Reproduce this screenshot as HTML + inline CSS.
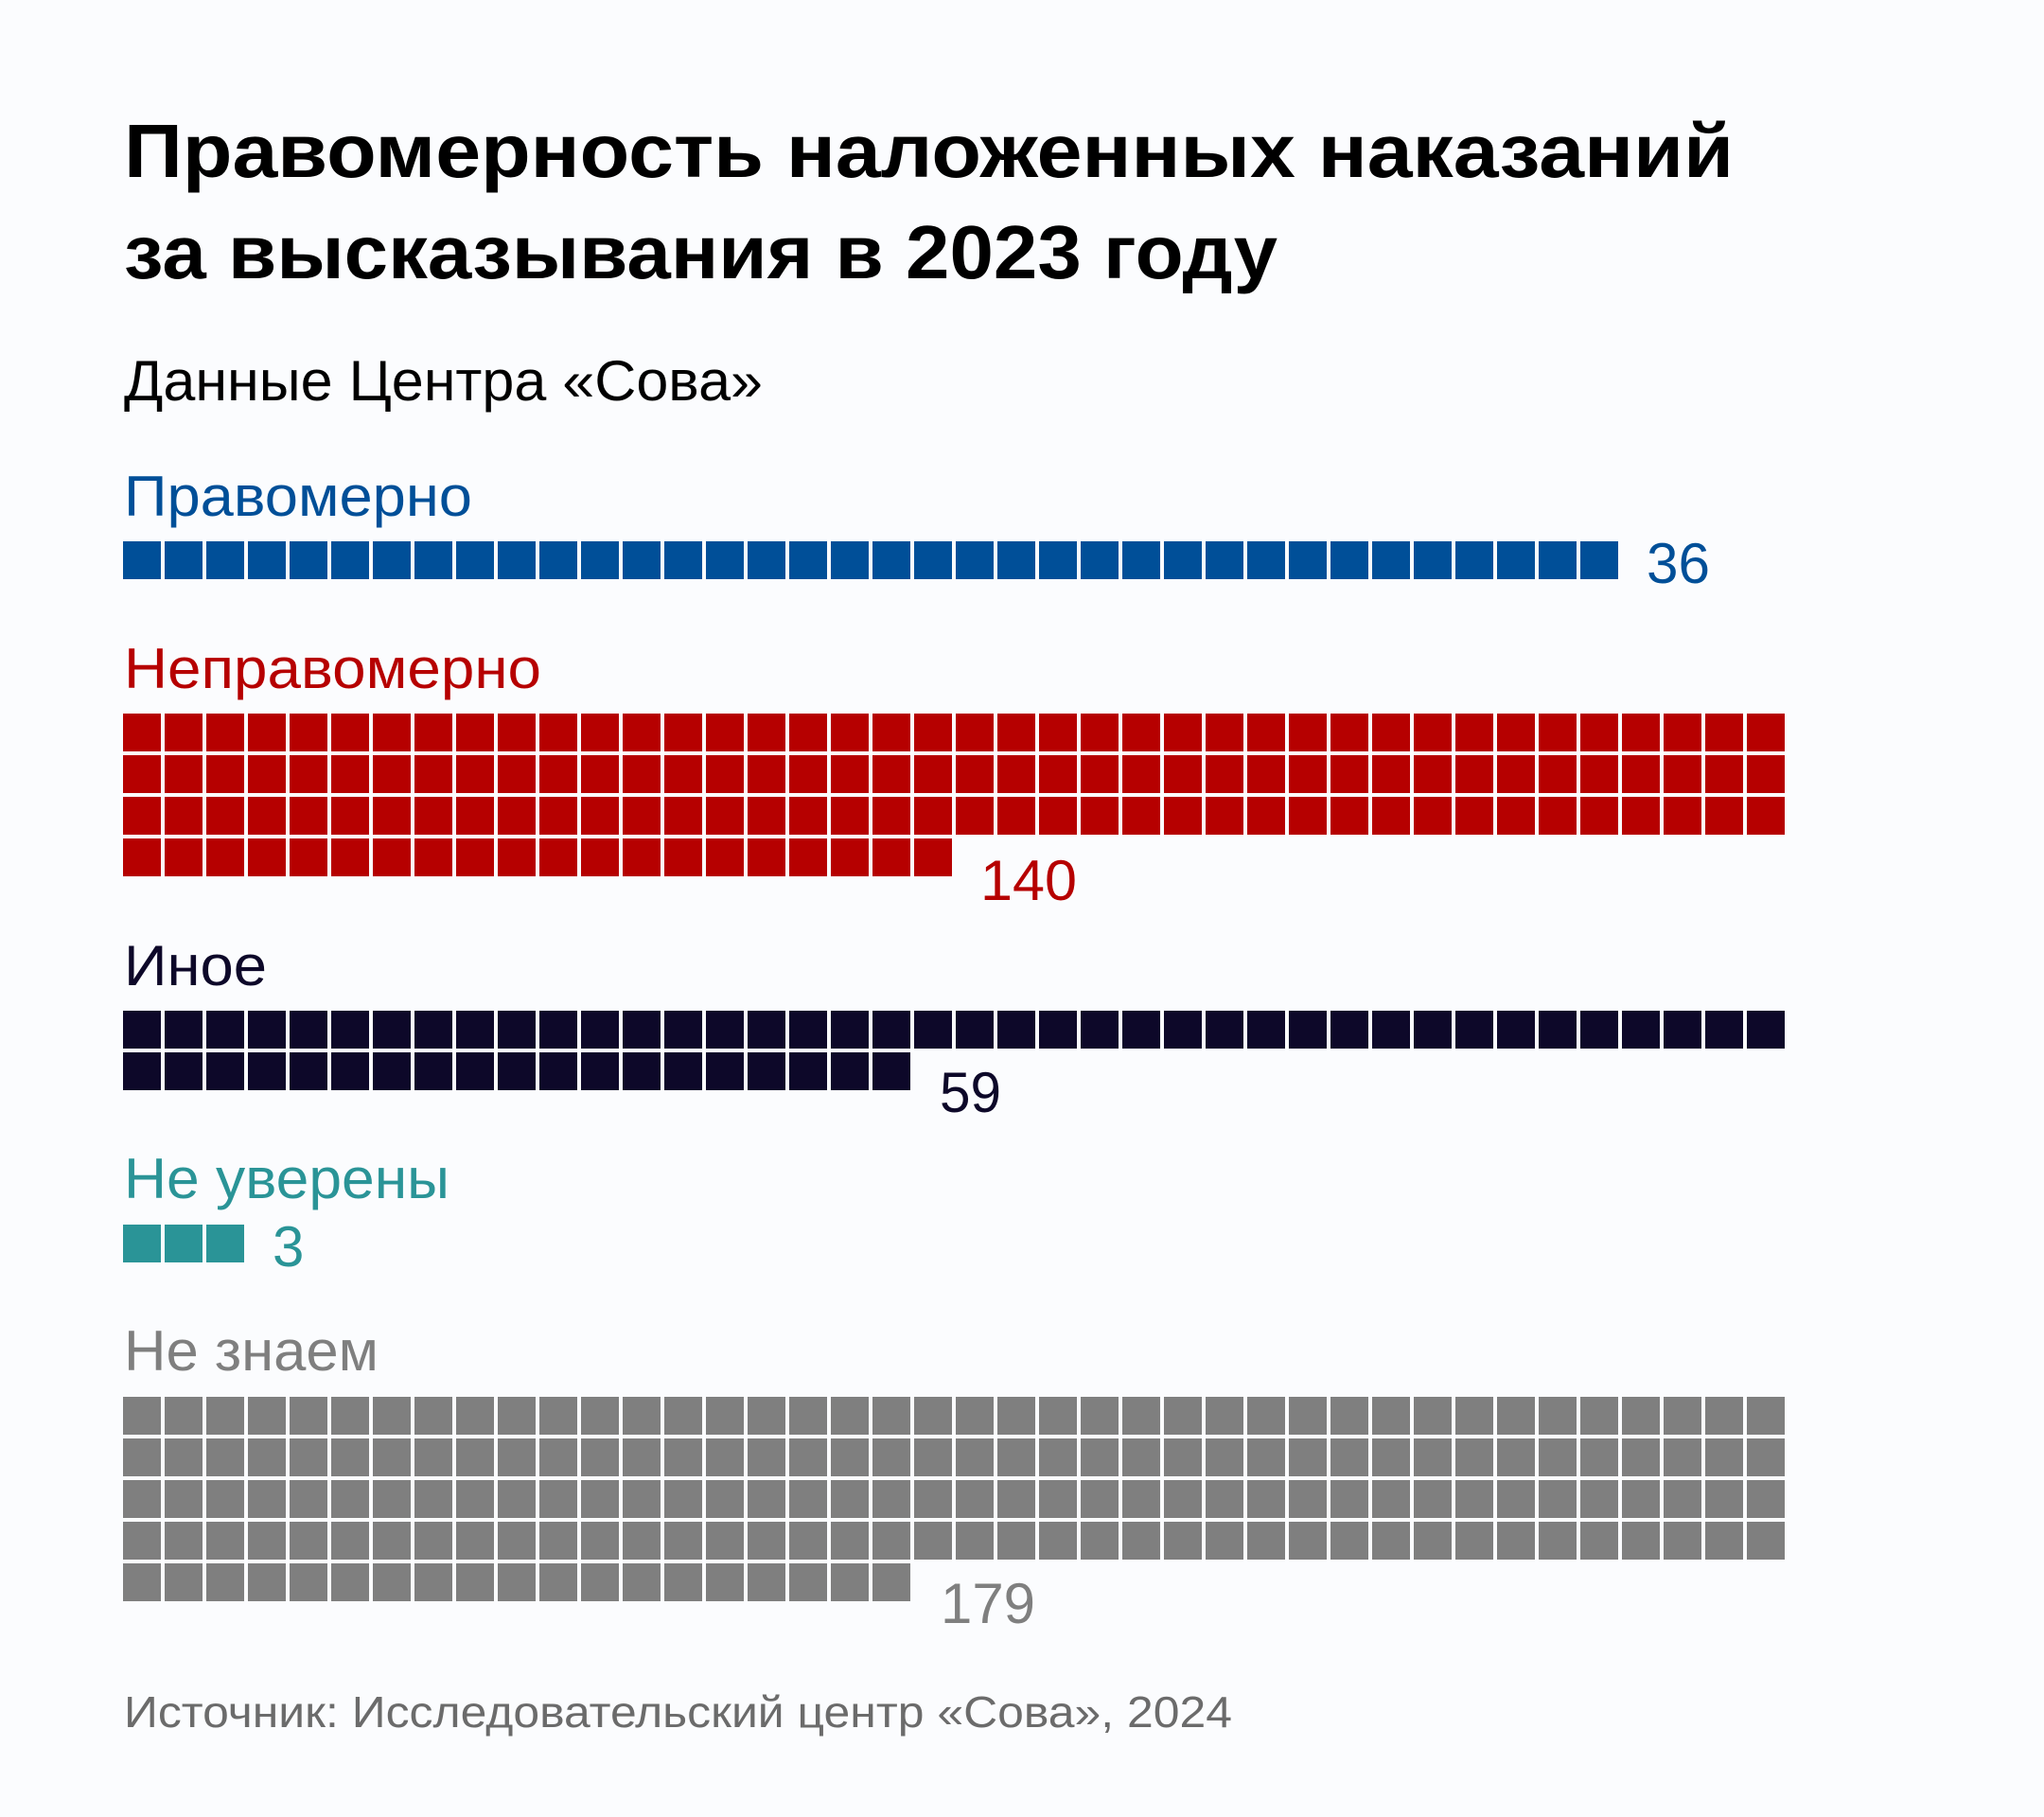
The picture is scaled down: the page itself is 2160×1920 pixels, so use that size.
<!DOCTYPE html>
<html><head><meta charset="utf-8"><style>
html,body{margin:0;padding:0;background:#fbfcfe;}
svg{display:block}
text{font-family:"Liberation Sans","DejaVu Sans",sans-serif;}
</style></head><body>
<svg width="2160" height="1920" viewBox="0 0 2160 1920" xmlns="http://www.w3.org/2000/svg">
<defs>
<pattern id="pb" x="130" y="572" width="44" height="44" patternUnits="userSpaceOnUse"><rect width="40" height="40" fill="#004f98"/></pattern>
<pattern id="pr" x="130" y="754" width="44" height="44" patternUnits="userSpaceOnUse"><rect width="40" height="40" fill="#b60000"/></pattern>
<pattern id="pd" x="130" y="1068" width="44" height="44" patternUnits="userSpaceOnUse"><rect width="40" height="40" fill="#0d0829"/></pattern>
<pattern id="pt" x="130" y="1294" width="44" height="44" patternUnits="userSpaceOnUse"><rect width="40" height="40" fill="#2a9497"/></pattern>
<pattern id="pg" x="130" y="1476" width="44" height="44" patternUnits="userSpaceOnUse"><rect width="40" height="40" fill="#7f7f7f"/></pattern>
</defs>
<rect width="2160" height="1920" fill="#fbfcfe"/>
<text x="131" y="187" font-size="80" font-weight="bold" fill="#000" textLength="1701" lengthAdjust="spacingAndGlyphs">Правомерность наложенных наказаний</text>
<text x="131" y="294" font-size="80" font-weight="bold" fill="#000" textLength="1219" lengthAdjust="spacingAndGlyphs">за высказывания в 2023 году</text>
<text x="131" y="423" font-size="60" fill="#000" textLength="675" lengthAdjust="spacingAndGlyphs">Данные Центра «Сова»</text>

<text x="131" y="545" font-size="60" fill="#004f98" textLength="368" lengthAdjust="spacingAndGlyphs">Правомерно</text>
<rect x="130" y="572" width="1584" height="44" fill="url(#pb)"/>
<text x="1740" y="616" font-size="60" fill="#004f98" textLength="67" lengthAdjust="spacingAndGlyphs">36</text>

<text x="131" y="727" font-size="60" fill="#b60000" textLength="441" lengthAdjust="spacingAndGlyphs">Неправомерно</text>
<rect x="130" y="754" width="1760" height="132" fill="url(#pr)"/>
<rect x="130" y="886" width="880" height="44" fill="url(#pr)"/>
<text x="1036" y="951" font-size="60" fill="#b60000" textLength="102" lengthAdjust="spacingAndGlyphs">140</text>

<text x="131" y="1041" font-size="60" fill="#0d0829" textLength="151" lengthAdjust="spacingAndGlyphs">Иное</text>
<rect x="130" y="1068" width="1760" height="44" fill="url(#pd)"/>
<rect x="130" y="1112" width="836" height="44" fill="url(#pd)"/>
<text x="993" y="1175" font-size="60" fill="#0d0829" textLength="65" lengthAdjust="spacingAndGlyphs">59</text>

<text x="131" y="1266" font-size="60" fill="#2a9497" textLength="344" lengthAdjust="spacingAndGlyphs">Не уверены</text>
<rect x="130" y="1294" width="132" height="44" fill="url(#pt)"/>
<text x="288" y="1338" font-size="60" fill="#2a9497">3</text>

<text x="131" y="1448" font-size="60" fill="#7f7f7f" textLength="269" lengthAdjust="spacingAndGlyphs">Не знаем</text>
<rect x="130" y="1476" width="1760" height="176" fill="url(#pg)"/>
<rect x="130" y="1652" width="836" height="44" fill="url(#pg)"/>
<text x="994" y="1715" font-size="60" fill="#7f7f7f" textLength="100" lengthAdjust="spacingAndGlyphs">179</text>

<text x="131" y="1825" font-size="46" fill="#6b6b6b" textLength="1171" lengthAdjust="spacingAndGlyphs">Источник: Исследовательский центр «Сова», 2024</text>
</svg>
</body></html>
